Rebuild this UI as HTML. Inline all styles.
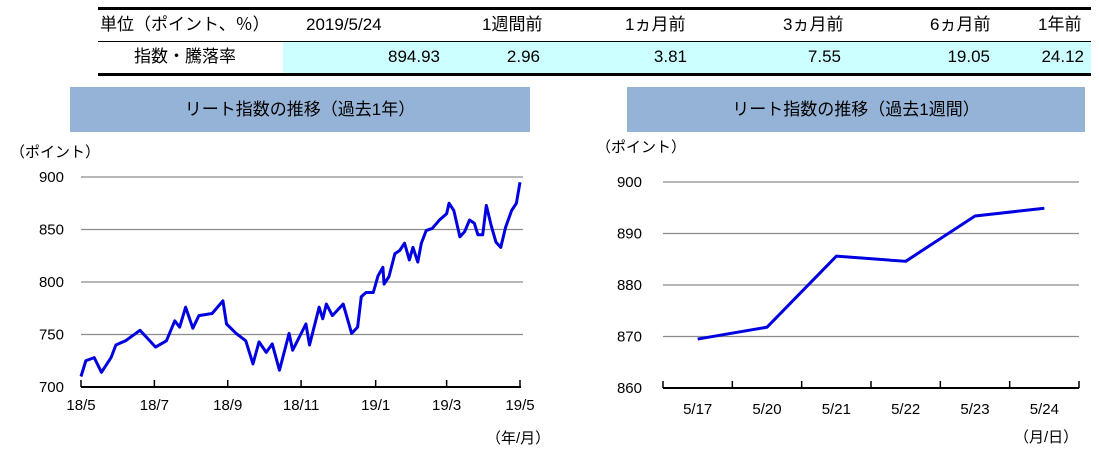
<!DOCTYPE html>
<html><head><meta charset="utf-8"><style>
body{margin:0;width:1099px;height:455px;background:#fff;overflow:hidden;font-family:"Liberation Sans","Noto Sans CJK JP",sans-serif;}
.abs{position:absolute;}
.t{position:absolute;font-size:17px;line-height:20px;height:20px;color:#000;white-space:nowrap;}
</style></head><body>
<div class="abs" style="left:98px;top:7px;width:993px;height:69px;">
  <div class="abs" style="left:0;top:0;width:993px;height:3px;background:#000"></div>
  <div class="abs" style="left:0;top:34px;width:993px;height:1px;background:#000"></div>
  <div class="abs" style="left:185px;top:35px;width:808px;height:31px;background:#ccffff"></div>
  <div class="abs" style="left:0;top:66px;width:993px;height:3px;background:#000"></div>
</div>
<div class="t" style="left:100px;top:15px;">単位（ポイント、％）</div>
<div class="t" style="left:306px;top:15px;">2019/5/24</div>
<div class="t" style="left:482px;top:15px;">1週間前</div>
<div class="t" style="left:625px;top:15px;">1ヵ月前</div>
<div class="t" style="left:783px;top:15px;">3ヵ月前</div>
<div class="t" style="left:930px;top:15px;">6ヵ月前</div>
<div class="t" style="left:1038px;top:15px;">1年前</div>
<div class="t" style="left:134px;top:47px;">指数・騰落率</div>
<div class="t" style="left:340px;top:47px;width:100px;text-align:right">894.93</div>
<div class="t" style="left:440px;top:47px;width:100px;text-align:right">2.96</div>
<div class="t" style="left:587px;top:47px;width:100px;text-align:right">3.81</div>
<div class="t" style="left:741px;top:47px;width:100px;text-align:right">7.55</div>
<div class="t" style="left:890px;top:47px;width:100px;text-align:right">19.05</div>
<div class="t" style="left:984px;top:47px;width:100px;text-align:right">24.12</div>

<div class="abs" style="left:70px;top:87px;width:460px;height:45px;background:#95b3d7;text-align:center;line-height:45px;font-size:17px;">リート指数の推移（過去1年）</div>
<div class="abs" style="left:627px;top:87px;width:458px;height:45px;background:#95b3d7;text-align:center;line-height:45px;font-size:17px;">リート指数の推移（過去1週間）</div>

<svg class="abs" style="left:0;top:0" width="1099" height="455" id="svg" font-family="Liberation Sans, Noto Sans CJK JP, sans-serif" font-size="15"></svg>
<script>
const leftDays=[0,4,11,17,25,29,37,49,54,62,71,78,82,87,93,98,109,118,121,129,137,143,148,154,159,165,173,176,187,190,198,201,204,209,218,225,230,233,237,243,247,251,252,256,261,265,269,273,276,280,283,287,292,298,304,306,310,315,319,323,327,330,334,337,341,345,349,353,358,362,365];
const leftValues=[710,725,728,714,728,740,744,754,748,738,744,763,757,776,756,768,770,782,760,751,744,722,743,733,741,716,751,735,760,740,776,765,779,768,779,751,757,786,790,790,806,814,798,805,827,830,837,821,833,819,837,849,851,859,865,875,868,843,848,859,856,845,845,873,854,838,833,852,868,875,895];
const leftTicks=[700,750,800,850,900];
const leftXLabels=["18/5","18/7","18/9","18/11","19/1","19/3","19/5"];
const leftXTickDays=[0,61,122,183,245,304,365];
const rightCats=["5/17","5/20","5/21","5/22","5/23","5/24"];
const rightValues=[869.5,871.8,885.6,884.6,893.4,894.9];
const rightTicks=[860,870,880,890,900];

const svg=document.getElementById('svg');
const NS='http://www.w3.org/2000/svg';
function mk(tag,attrs,name,parent){const e=document.createElementNS(NS,tag);for(const k in attrs)e.setAttribute(k,attrs[k]);


(parent||svg).appendChild(e);return e;}
function txt(x,y,s,anchor,name){const t=mk('text',{x:x,y:y,'text-anchor':anchor||'middle'},name);t.textContent=s;return t;}

const lx0=81,lx1=520,ly0=387,ly1=177;
const lX=d=>lx0+(lx1-lx0)*d/365;
const lY=v=>ly0-(ly0-ly1)*(v-700)/200;
leftTicks.forEach(v=>{if(v>700)mk('line',{x1:lx0,x2:lx1+3,y1:lY(v),y2:lY(v),stroke:'#8c8c8c','stroke-width':1.3},'left-gridline');
txt(64,lY(v)+5,String(v),'end','left-y-tick-label');});
mk('line',{x1:lx0,x2:lx1+1,y1:ly0,y2:ly0,stroke:'#000','stroke-width':2},'left-x-axis');
leftXTickDays.forEach((d,i)=>{mk('line',{x1:lX(d),x2:lX(d),y1:ly0-7,y2:ly0,stroke:'#000','stroke-width':1.5},'left-x-tick');
txt(lX(d),ly0+23,leftXLabels[i],'middle','left-x-tick-label');});
mk('polyline',{points:leftDays.map((d,i)=>lX(d)+','+lY(leftValues[i])).join(' '),fill:'none',stroke:'#0000e0','stroke-width':3,'stroke-linejoin':'round'},'left-index-line');
txt(10,157,'（ポイント）','start','left-y-axis-title');
txt(486,443,'（年/月）','start','left-x-axis-title');

const rx0=663,rx1=1079,ry0=388,ry1=182;
const bw=(rx1-rx0)/rightCats.length;
const rX=i=>rx0+bw*(i+0.5);
const rY=v=>ry0-(ry0-ry1)*(v-860)/40;
rightTicks.forEach(v=>{if(v>860)mk('line',{x1:rx0,x2:rx1,y1:rY(v),y2:rY(v),stroke:'#8c8c8c','stroke-width':1.3},'right-gridline');
txt(642,rY(v)+5,String(v),'end','right-y-tick-label');});
mk('line',{x1:rx0,x2:rx1,y1:ry0,y2:ry0,stroke:'#000','stroke-width':2},'right-x-axis');
for(let i=0;i<=rightCats.length;i++)mk('line',{x1:rx0+bw*i,x2:rx0+bw*i,y1:ry0-7,y2:ry0,stroke:'#000','stroke-width':1.5},'right-x-tick');
rightCats.forEach((c,i)=>txt(rX(i),ry0+26,c,'middle','right-x-tick-label'));
mk('polyline',{points:rightValues.map((v,i)=>rX(i)+','+rY(v)).join(' '),fill:'none',stroke:'#0000e0','stroke-width':3,'stroke-linejoin':'round'},'right-index-line');
txt(596,152,'（ポイント）','start','right-y-axis-title');
txt(1014,442,'（月/日）','start','right-x-axis-title');
</script>
</body></html>
